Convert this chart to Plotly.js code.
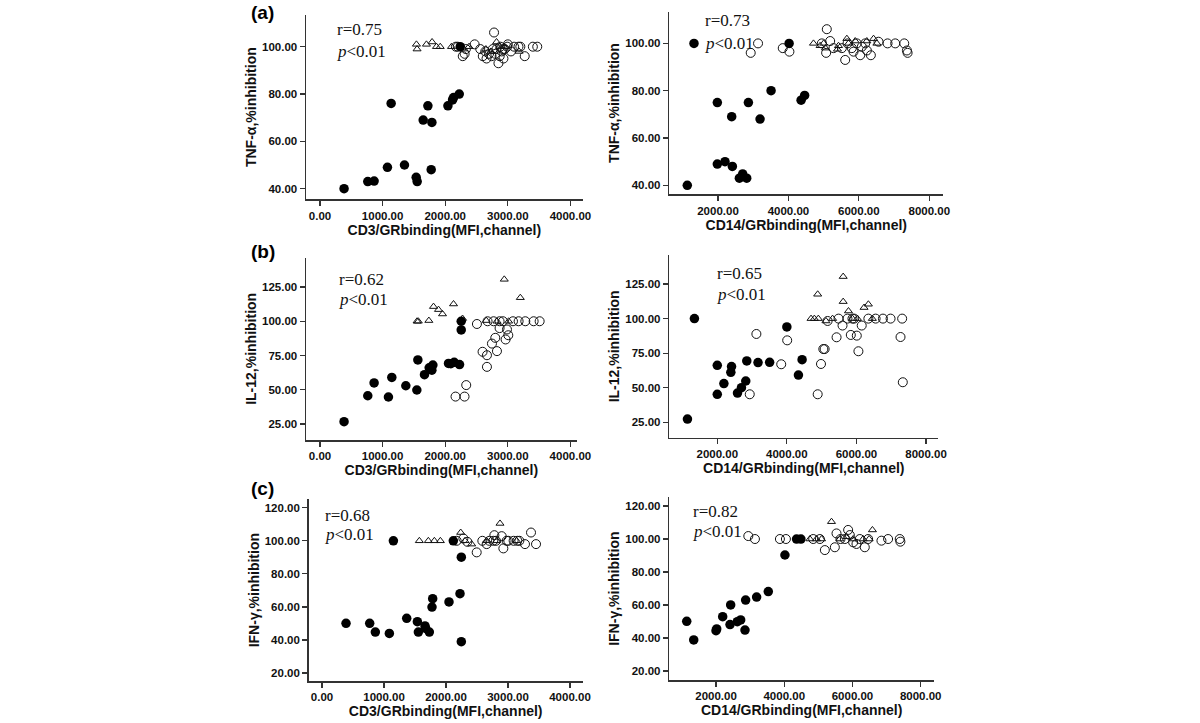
<!DOCTYPE html>
<html>
<head>
<meta charset="utf-8">
<script src="https://cdn.plot.ly/plotly-3.0.1.min.js"></script>
<style>
  body { margin: 0; background: #fff; }
  #plot_div { width: 1200px; height: 723px; }
</style>
</head>
<body>
<div id="plot_div"></div>
<script>
// (a) TNF-alpha vs CD3
var tnfCd3FilledX = [384, 763, 864, 1077, 1136, 1349, 1536, 1552, 1648, 1723, 1787, 1776, 2043, 2117, 2133, 2224, 2240];
var tnfCd3FilledY = [40, 43, 43.2, 49, 76, 50, 44.8, 43, 69, 75, 68, 48, 75, 77.5, 78.5, 80, 100];
var tnfCd3OpenX = [2170, 2200, 2280, 2310, 2330, 2470, 2560, 2600, 2640, 2660, 2700, 2740, 2760, 2780, 2800, 2820, 2850, 2870, 2880, 2900, 2920, 2930, 2950, 2990, 3000, 3050, 3100, 3170, 3200, 3270, 3400, 3470];
var tnfCd3OpenY = [100, 100, 96, 97, 99, 101, 99, 96, 98, 95, 97, 96, 99, 106, 97, 99, 93, 96, 100, 98, 99, 95, 99, 100, 101, 98, 100, 100, 100, 96, 100, 100];
var tnfCd3TriX = [1540, 1550, 1700, 1790, 1860, 1920, 2100, 2300, 2380, 2650, 2730, 2820, 2870, 2950, 3180];
var tnfCd3TriY = [101, 99, 101, 102, 100, 100, 100, 99, 100, 99, 98, 102, 100, 100, 98];

// (a) TNF-alpha vs CD14
var tnfCd14FilledX = [1128, 1318, 1981, 1981, 2199, 2389, 2408, 2607, 2701, 2815, 2863, 3194, 3507, 4360, 4460, 4019];
var tnfCd14FilledY = [40, 100, 75, 49, 50, 69, 48, 43, 44.8, 43, 75, 68, 80, 76, 78, 100];
var tnfCd14OpenX = [2929, 3137, 3839, 4028, 4948, 5090, 5071, 5185, 5280, 5517, 5612, 5678, 5801, 5849, 5943, 6038, 6085, 6180, 6227, 6341, 6559, 6815, 7033, 7289, 7365, 7384];
var tnfCd14OpenY = [96, 100, 98, 96.5, 100, 106, 96, 101, 98, 98, 93, 100, 98, 96.5, 100, 95, 98.6, 100, 97, 95, 100.7, 100, 100, 100, 97, 96];
var tnfCd14TriX = [4711, 4900, 5000, 5052, 5393, 5422, 5659, 5706, 5896, 6227, 6417, 6512];
var tnfCd14TriY = [100, 99, 100, 98, 97.5, 99, 102, 100, 101, 101, 102, 100];

// (b) IL-12 vs CD3
var il12Cd3FilledX = [384, 763, 864, 1093, 1147, 1371, 1547, 1563, 1669, 1744, 1787, 1803, 2053, 2090, 2144, 2229, 2256, 2256];
var il12Cd3FilledY = [26.7, 45.6, 55, 44.7, 59, 52.9, 49.8, 71.8, 61, 66, 64.3, 68, 69.2, 69, 70, 68.4, 100, 93.7];
var il12Cd3OpenX = [2165, 2309, 2336, 2507, 2597, 2667, 2667, 2677, 2747, 2773, 2800, 2827, 2869, 2869, 2923, 2965, 2987, 3008, 3083, 3173, 3280, 3413, 3509];
var il12Cd3OpenY = [45, 45, 53.4, 98, 77.7, 66.7, 75.2, 100, 83.7, 100, 87.9, 78.2, 95, 100, 100, 86.7, 94, 89.8, 100, 100, 100, 100, 100];
var il12Cd3TriX = [1550, 1570, 1739, 1813, 1893, 1957, 2133, 2277, 2656, 2827, 2944, 3013, 3200];
var il12Cd3TriY = [100, 100, 100.5, 110.7, 108.5, 105.3, 112.6, 102, 100.5, 100, 130.6, 100, 117.2];

// (b) IL-12 vs CD14
var il12Cd14FilledX = [1143, 1343, 2000, 2000, 2190, 2410, 2390, 2581, 2695, 2819, 2848, 3171, 3505, 4000, 4333, 4438];
var il12Cd14FilledY = [27.4, 100, 66.2, 45.3, 53, 65.3, 61.2, 46.2, 50.1, 54.9, 69.4, 68.2, 68.4, 94, 59.2, 70.3];
var il12Cd14OpenX = [2933, 3124, 3838, 4010, 4886, 4981, 5048, 5086, 5171, 5429, 5486, 5600, 5743, 5838, 5886, 5933, 6010, 6057, 6152, 6343, 6552, 6762, 6981, 7267, 7314, 7333];
var il12Cd14OpenY = [45.3, 88.9, 67, 84.3, 45.3, 67.2, 78, 78, 98.3, 86.5, 100, 95, 100, 88.2, 100, 100, 87.7, 76.4, 95, 100, 100, 100, 100, 86.7, 100, 54];
var il12Cd14TriX = [4695, 4790, 4905, 4886, 5124, 5314, 5619, 5619, 5771, 5886, 6029, 6219, 6343, 6457];
var il12Cd14TriY = [100, 100, 100, 117.6, 98.3, 100, 130.4, 112.3, 105.5, 100, 100, 108, 110.4, 100];

// (c) IFN-gamma vs CD3
var ifnCd3FilledX = [387, 769, 860, 1086, 1151, 1366, 1538, 1554, 1661, 1672, 1731, 1774, 1785, 2048, 2118, 2226, 2247, 2247];
var ifnCd3FilledY = [50.1, 50.1, 44.8, 44, 100, 53.1, 51.1, 44.8, 48.5, 47, 44.8, 59.9, 65, 63, 100, 68, 90.1, 39];
var ifnCd3OpenX = [2172, 2280, 2344, 2495, 2586, 2656, 2699, 2763, 2780, 2806, 2898, 2925, 2978, 3005, 3091, 3151, 3183, 3274, 3371, 3452];
var ifnCd3OpenY = [100, 101.4, 99.4, 93, 100, 98, 100, 100, 103.4, 100, 102.8, 95.4, 100, 100, 100, 100, 100, 98, 105, 98];
var ifnCd3TriX = [1570, 1715, 1812, 1909, 2237, 2306, 2414, 2656, 2817, 2871, 3140];
var ifnCd3TriY = [100, 100, 100, 100, 105, 100, 98, 100, 100, 110.5, 100];

// (c) IFN-gamma vs CD14
var ifnCd14FilledX = [1141, 1346, 2000, 2020, 2195, 2410, 2429, 2624, 2722, 2849, 2868, 3190, 3532, 4020, 4361, 4488];
var ifnCd14FilledY = [50.1, 38.8, 44.4, 45.5, 52.9, 48.1, 60, 49.9, 50.9, 44.8, 63, 64.8, 68.1, 90.3, 100, 100];
var ifnCd14OpenX = [2946, 3141, 3873, 4049, 4849, 5044, 5190, 5483, 5532, 5649, 5776, 5873, 5922, 6020, 6117, 6215, 6361, 6459, 6849, 7044, 7385, 7405];
var ifnCd14OpenY = [101.8, 100, 100, 100, 100, 100, 93.3, 95, 103.4, 100, 100, 105.5, 102.4, 98, 97, 100, 95, 100, 99, 100, 100, 98.4];
var ifnCd14TriX = [4751, 4946, 5093, 5385, 5629, 5824, 6020, 6312, 6488, 6585];
var ifnCd14TriY = [100, 100, 100, 110.5, 100, 101.4, 100, 100, 100, 105.5];

var xTicksCd3 = [0, 1000, 2000, 3000, 4000];
var xTicksCd14 = [2000, 4000, 6000, 8000];
var yTicksTnf = [40, 60, 80, 100];
var yTicksIl12 = [25, 50, 75, 100, 125];
var yTicksIfn = [20, 40, 60, 80, 100, 120];

var xTitleCd3 = 'CD3/GRbinding(MFI,channel)';
var xTitleCd14 = 'CD14/GRbinding(MFI,channel)';
var yTitles = ['TNF-α,%inhibition', 'IL-12,%inhibition', 'IFN-γ,%inhibition'];
var rValues = ['r=0.75', 'r=0.73', 'r=0.62', 'r=0.65', 'r=0.68', 'r=0.82'];
var panelLetters = ['(a)', '(b)', '(c)'];

var W = 1200, H = 723;
function px(x) { return x / W }
function py(y) { return 1 - y / H }

// pixel boxes of each plot area [left, right, top, bottom] and axis ranges
var panels = [
  { box: [306, 582.7, 15, 199.3], xr: [-224, 4196], yr: [35.5, 113.4], fx: tnfCd3FilledX, fy: tnfCd3FilledY, ox: tnfCd3OpenX, oy: tnfCd3OpenY, tx: tnfCd3TriX, ty: tnfCd3TriY, xt: xTicksCd3, yt: yTicksTnf, xtitle: xTitleCd3, ytitle: yTitles[0], txt: [335, 30, 52] },
  { box: [669.3, 943.3, 11.7, 194.3], xr: [617, 8398], yr: [36.2, 113.4], fx: tnfCd14FilledX, fy: tnfCd14FilledY, ox: tnfCd14OpenX, oy: tnfCd14OpenY, tx: tnfCd14TriX, ty: tnfCd14TriY, xt: xTicksCd14, yt: yTicksTnf, xtitle: xTitleCd14, ytitle: yTitles[0], txt: [703, 20, 43] },
  { box: [306, 576.7, 257.7, 440], xr: [-224, 4101], yr: [13.3, 146.4], fx: il12Cd3FilledX, fy: il12Cd3FilledY, ox: il12Cd3OpenX, oy: il12Cd3OpenY, tx: il12Cd3TriX, ty: il12Cd3TriY, xt: xTicksCd3, yt: yTicksIl12, xtitle: xTitleCd3, ytitle: yTitles[1], txt: [337, 279, 299] },
  { box: [669.3, 938.3, 255, 437.7], xr: [621, 8353], yr: [13.9, 146], fx: il12Cd14FilledX, fy: il12Cd14FilledY, ox: il12Cd14OpenX, oy: il12Cd14OpenY, tx: il12Cd14TriX, ty: il12Cd14TriY, xt: xTicksCd14, yt: yTicksIl12, xtitle: xTitleCd14, ytitle: yTitles[1], txt: [715, 273, 294] },
  { box: [308.7, 582.7, 499.3, 681], xr: [-215, 4205], yr: [15.2, 125.1], fx: ifnCd3FilledX, fy: ifnCd3FilledY, ox: ifnCd3OpenX, oy: ifnCd3OpenY, tx: ifnCd3TriX, ty: ifnCd3TriY, xt: xTicksCd3, yt: yTicksIfn, xtitle: xTitleCd3, ytitle: yTitles[2], txt: [323, 515, 534] },
  { box: [669.3, 934, 497.3, 680], xr: [630, 8390], yr: [14.5, 125.3], fx: ifnCd14FilledX, fy: ifnCd14FilledY, ox: ifnCd14OpenX, oy: ifnCd14OpenY, tx: ifnCd14TriX, ty: ifnCd14TriY, xt: xTicksCd14, yt: yTicksIfn, xtitle: xTitleCd14, ytitle: yTitles[2], txt: [690.7, 511.7, 531.7] }
];

var tickFont = { family: 'Arial, Liberation Sans, sans-serif', size: 11.5, color: '#111', weight: 'bold' };
var titleFont = { family: 'Arial, Liberation Sans, sans-serif', size: 14, color: '#111', weight: 'bold' };
var serif = { family: 'Times New Roman, Liberation Serif, serif', size: 17, color: '#111' };

var traces = [];
var layout = {
  width: W,
  height: H,
  margin: { l: 0, r: 0, t: 0, b: 0 },
  paper_bgcolor: '#fff',
  plot_bgcolor: '#fff',
  showlegend: false,
  annotations: []
};

for (let i = 0; i < panels.length; i++) {
  var p = panels[i];
  var n = i + 1;
  var xa = n == 1 ? 'x' : 'x' + n;
  var ya = n == 1 ? 'y' : 'y' + n;
  traces.push({
    type: 'scatter', mode: 'markers', x: p.ox, y: p.oy, xaxis: xa, yaxis: ya,
    marker: { symbol: 'circle-open', size: 9, color: '#111', line: { width: 1 } }
  });
  traces.push({
    type: 'scatter', mode: 'markers', x: p.tx, y: p.ty, xaxis: xa, yaxis: ya,
    marker: { symbol: 'triangle-up-open', size: 7, color: '#111', line: { width: 1 } }
  });
  traces.push({
    type: 'scatter', mode: 'markers', x: p.fx, y: p.fy, xaxis: xa, yaxis: ya,
    marker: { symbol: 'circle', size: 9.5, color: '#000' }
  });
  layout['xaxis' + (n == 1 ? '' : n)] = {
    domain: [px(p.box[0]), px(p.box[1])],
    anchor: ya,
    range: p.xr,
    tickvals: p.xt,
    tickformat: '.2f',
    ticks: 'outside', ticklen: 5, tickwidth: 1.2, tickcolor: '#333',
    showline: true, linecolor: '#333', linewidth: 1.5,
    showgrid: false, zeroline: false,
    tickfont: tickFont,
    title: { text: p.xtitle, font: titleFont, standoff: 4 }
  };
  layout['yaxis' + (n == 1 ? '' : n)] = {
    domain: [py(p.box[3]), py(p.box[2])],
    anchor: xa,
    range: p.yr,
    tickvals: p.yt,
    tickformat: '.2f',
    ticks: 'outside', ticklen: 5, tickwidth: 1.2, tickcolor: '#333',
    showline: true, linecolor: '#333', linewidth: 1.5,
    showgrid: false, zeroline: false,
    tickfont: tickFont,
    title: { text: p.ytitle, font: titleFont, standoff: 2 }
  };
  layout.annotations.push({
    xref: 'paper', yref: 'paper', x: px(p.txt[0]), y: py(p.txt[1]),
    xanchor: 'left', yanchor: 'middle', showarrow: false,
    text: rValues[i], font: serif
  });
  layout.annotations.push({
    xref: 'paper', yref: 'paper', x: px(p.txt[0]), y: py(p.txt[2]),
    xanchor: 'left', yanchor: 'middle', showarrow: false,
    text: '<i>p</i>&lt;0.01', font: serif
  });
}

var letterY = [12, 251, 488];
for (let k = 0; k < 3; k++) {
  layout.annotations.push({
    xref: 'paper', yref: 'paper', x: px(249), y: py(letterY[k]),
    xanchor: 'left', yanchor: 'middle', showarrow: false,
    text: panelLetters[k],
    font: { family: 'Arial, Liberation Sans, sans-serif', size: 19, color: '#000', weight: 'bold' }
  });
}

Plotly.newPlot('plot_div', traces, layout, { staticPlot: true });
</script>
</body>
</html>
